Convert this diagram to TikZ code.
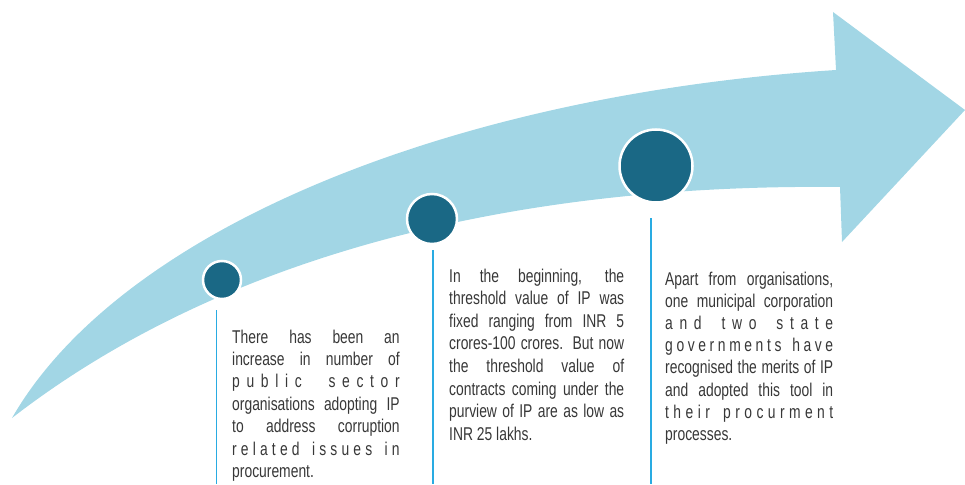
\documentclass[tikz,border=0pt]{standalone}
\usepackage{fontspec}
\setmainfont[FakeStretch=0.75]{Liberation Sans}
\definecolor{arrowblue}{RGB}{162,214,229}
\definecolor{dotblue}{RGB}{26,104,133}
\definecolor{lineblue}{RGB}{41,171,226}
\definecolor{txtgray}{RGB}{55,55,55}
\newcommand{\JL}[1]{\makebox[\linewidth][s]{#1}\par}
\begin{document}
\begin{tikzpicture}[x=1pt,y=-1pt,
  dot/.style={circle,fill=dotblue,draw=white,line width=2.5pt,inner sep=0pt},
  vline/.style={draw=lineblue,line width=1.6pt},
  txt/.style={anchor=base west,inner sep=0pt,text=txtgray,font=\fontsize{18.5}{22.4}\selectfont}]
\useasboundingbox (0,0) rectangle (965,484);
% arrow
\fill[arrowblue] (12,418) .. controls (120,230) and (450,95) .. (836,70)
  -- (833,12) -- (965,110) -- (842,242) -- (840,187)
  .. controls (460,183) and (190,280) .. (12,418) -- cycle;
% dots
\node[dot,minimum size=38pt] (c1) at (222,280) {};
\node[dot,minimum size=50pt] (c2) at (432,219) {};
\node[dot,minimum size=73pt] (c3) at (656,166) {};
% lines
\coordinate (l1a) at (216.5,310);
\coordinate (l1b) at (216.5,484);
\coordinate (l2a) at (432.7,250);
\coordinate (l2b) at (432.7,484);
\coordinate (l3a) at (651,218);
\coordinate (l3b) at (651,484);
\draw[vline] (l1a) -- (l1b);
\draw[vline] (l2a) -- (l2b);
\draw[vline] (l3a) -- (l3b);
% texts
\node[txt] (t1) at (232,343) {\parbox[t]{167.5pt}{\fontsize{18.5}{22.4}\selectfont
\JL{There has been an}
\JL{increase in number of}
\JL{p u b l i c\ \ \ \ s e c t o r}
\JL{organisations adopting IP}
\JL{to address corruption}
\JL{r e l a t e d\ \ \ i s s u e s\ \ \ i n}
procurement.}};
\node[txt] (t2) at (449,282) {\parbox[t]{175pt}{\fontsize{18.5}{22.6}\selectfont
\JL{In the beginning, the}
\JL{threshold value of IP was}
\JL{fixed ranging from INR 5}
\JL{crores-100 crores. But now}
\JL{the threshold value of}
\JL{contracts coming under the}
\JL{purview of IP are as low as}
INR 25 lakhs.}};
\node[txt] (t3) at (665,285) {\parbox[t]{168pt}{\fontsize{18.5}{22.2}\selectfont
\JL{Apart from organisations,}
\JL{one municipal corporation}
\JL{a n d\ \ \ t w o\ \ \ s t a t e}
\JL{g o v e r n m e n t s\ \ \ h a v e}
\JL{recognised the merits of IP}
\JL{and adopted this tool in}
\JL{t h e i r\ \ \ p r o c u r m e n t}
processes.}};
\end{tikzpicture}
\end{document}
